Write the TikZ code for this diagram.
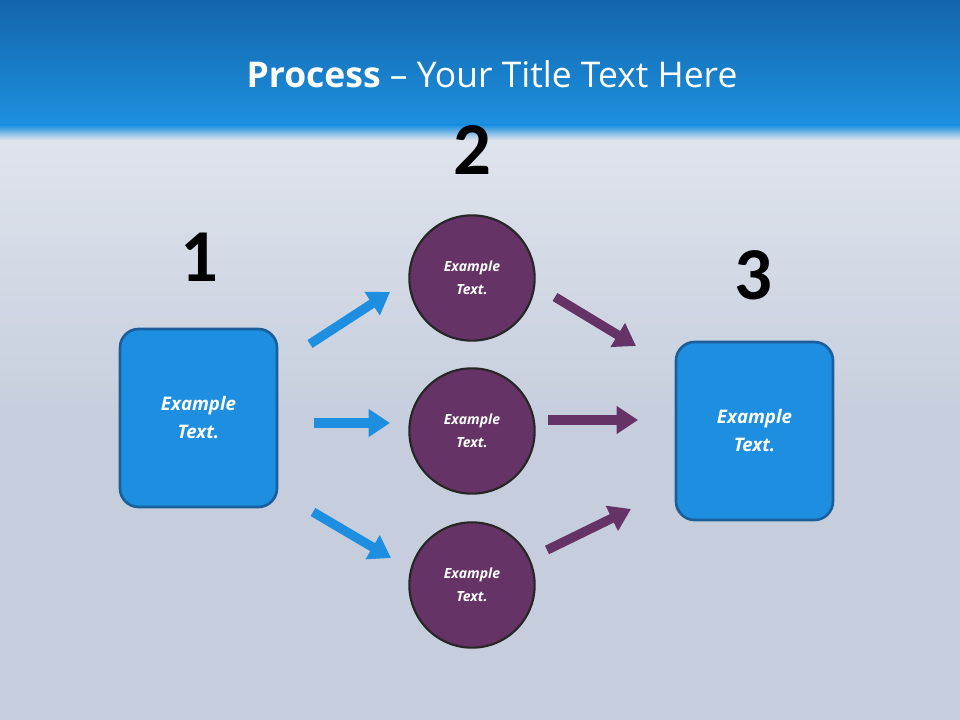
\documentclass[tikz,border=0pt]{standalone}
\usepackage{fontspec}
\setmainfont{Open Sans}
\newfontfamily\numfont{Carlito}
\usetikzlibrary{arrows.meta}
\definecolor{boxblue}{HTML}{1E8FE0}
\definecolor{boxedge}{HTML}{1A5F9A}
\definecolor{purp}{HTML}{653366}
\definecolor{bg}{HTML}{C6CEDD}
\definecolor{bartop}{HTML}{1466AA}
\definecolor{barbot}{HTML}{1C90E0}
\tikzset{
 sq/.style={draw=boxedge,line width=2pt,fill=boxblue,rounded corners=14pt,minimum width=117.75pt,minimum height=133.5pt,text=white,font=\bfseries\itshape\fontsize{14}{21}\selectfont,align=center},
 circ/.style={circle,draw=black!85,line width=1.6pt,fill=purp,minimum size=94pt,text=white,font=\bfseries\itshape\fontsize{10.5}{17}\selectfont,align=center},
 num/.style={font=\numfont\bfseries\fontsize{56}{60}\selectfont},
 barr/.style={line width=7pt,draw=boxblue,-{Triangle[length=16pt,width=20pt]}},
 parr/.style={line width=7pt,draw=purp,-{Triangle[length=16pt,width=20pt]}}
}
\begin{document}
\begin{tikzpicture}[x=0.75pt,y=-0.75pt]
\useasboundingbox (0,0) rectangle (960,720);
\fill[bg] (0,0) rectangle (960,720);
\shade[top color=white!45!bg, bottom color=bg] (0,130) rectangle (960,420);
\shade[top color=bartop,bottom color=barbot] (0,0) rectangle (960,125);
\shade[top color=barbot,bottom color=white!45!bg] (0,125) rectangle (960,140);
\node[text=white,font=\fontsize{26.6}{32}\selectfont] (title) at (492,74) {\textbf{Process} -- Your Title Text Here};
\node[sq] (b1) at (198.5,418) {Example\\Text.};
\node[sq] (b3) at (754.5,431) {Example\\Text.};
\node[circ] (c1) at (472,278) {Example\\Text.};
\node[circ] (c2) at (472,431) {Example\\Text.};
\node[circ] (c3) at (472,585) {Example\\Text.};
\node[num] (n1) at (199,257) {1};
\node[num] (n2) at (472,150) {2};
\node[num] (n3) at (753,275) {3};
\coordinate (a1s) at (310,344); \coordinate (a1e) at (390,292);
\coordinate (a2s) at (314,423); \coordinate (a2e) at (390,423);
\coordinate (a3s) at (313,512); \coordinate (a3e) at (391,558);
\coordinate (p1s) at (555,297); \coordinate (p1e) at (636,346);
\coordinate (p2s) at (548,420); \coordinate (p2e) at (638,420);
\coordinate (p3s) at (547,550); \coordinate (p3e) at (631,509);
\draw[barr] (a1s) -- (a1e);
\draw[barr] (a2s) -- (a2e);
\draw[barr] (a3s) -- (a3e);
\draw[parr] (p1s) -- (p1e);
\draw[parr] (p2s) -- (p2e);
\draw[parr] (p3s) -- (p3e);
\end{tikzpicture}
\end{document}
